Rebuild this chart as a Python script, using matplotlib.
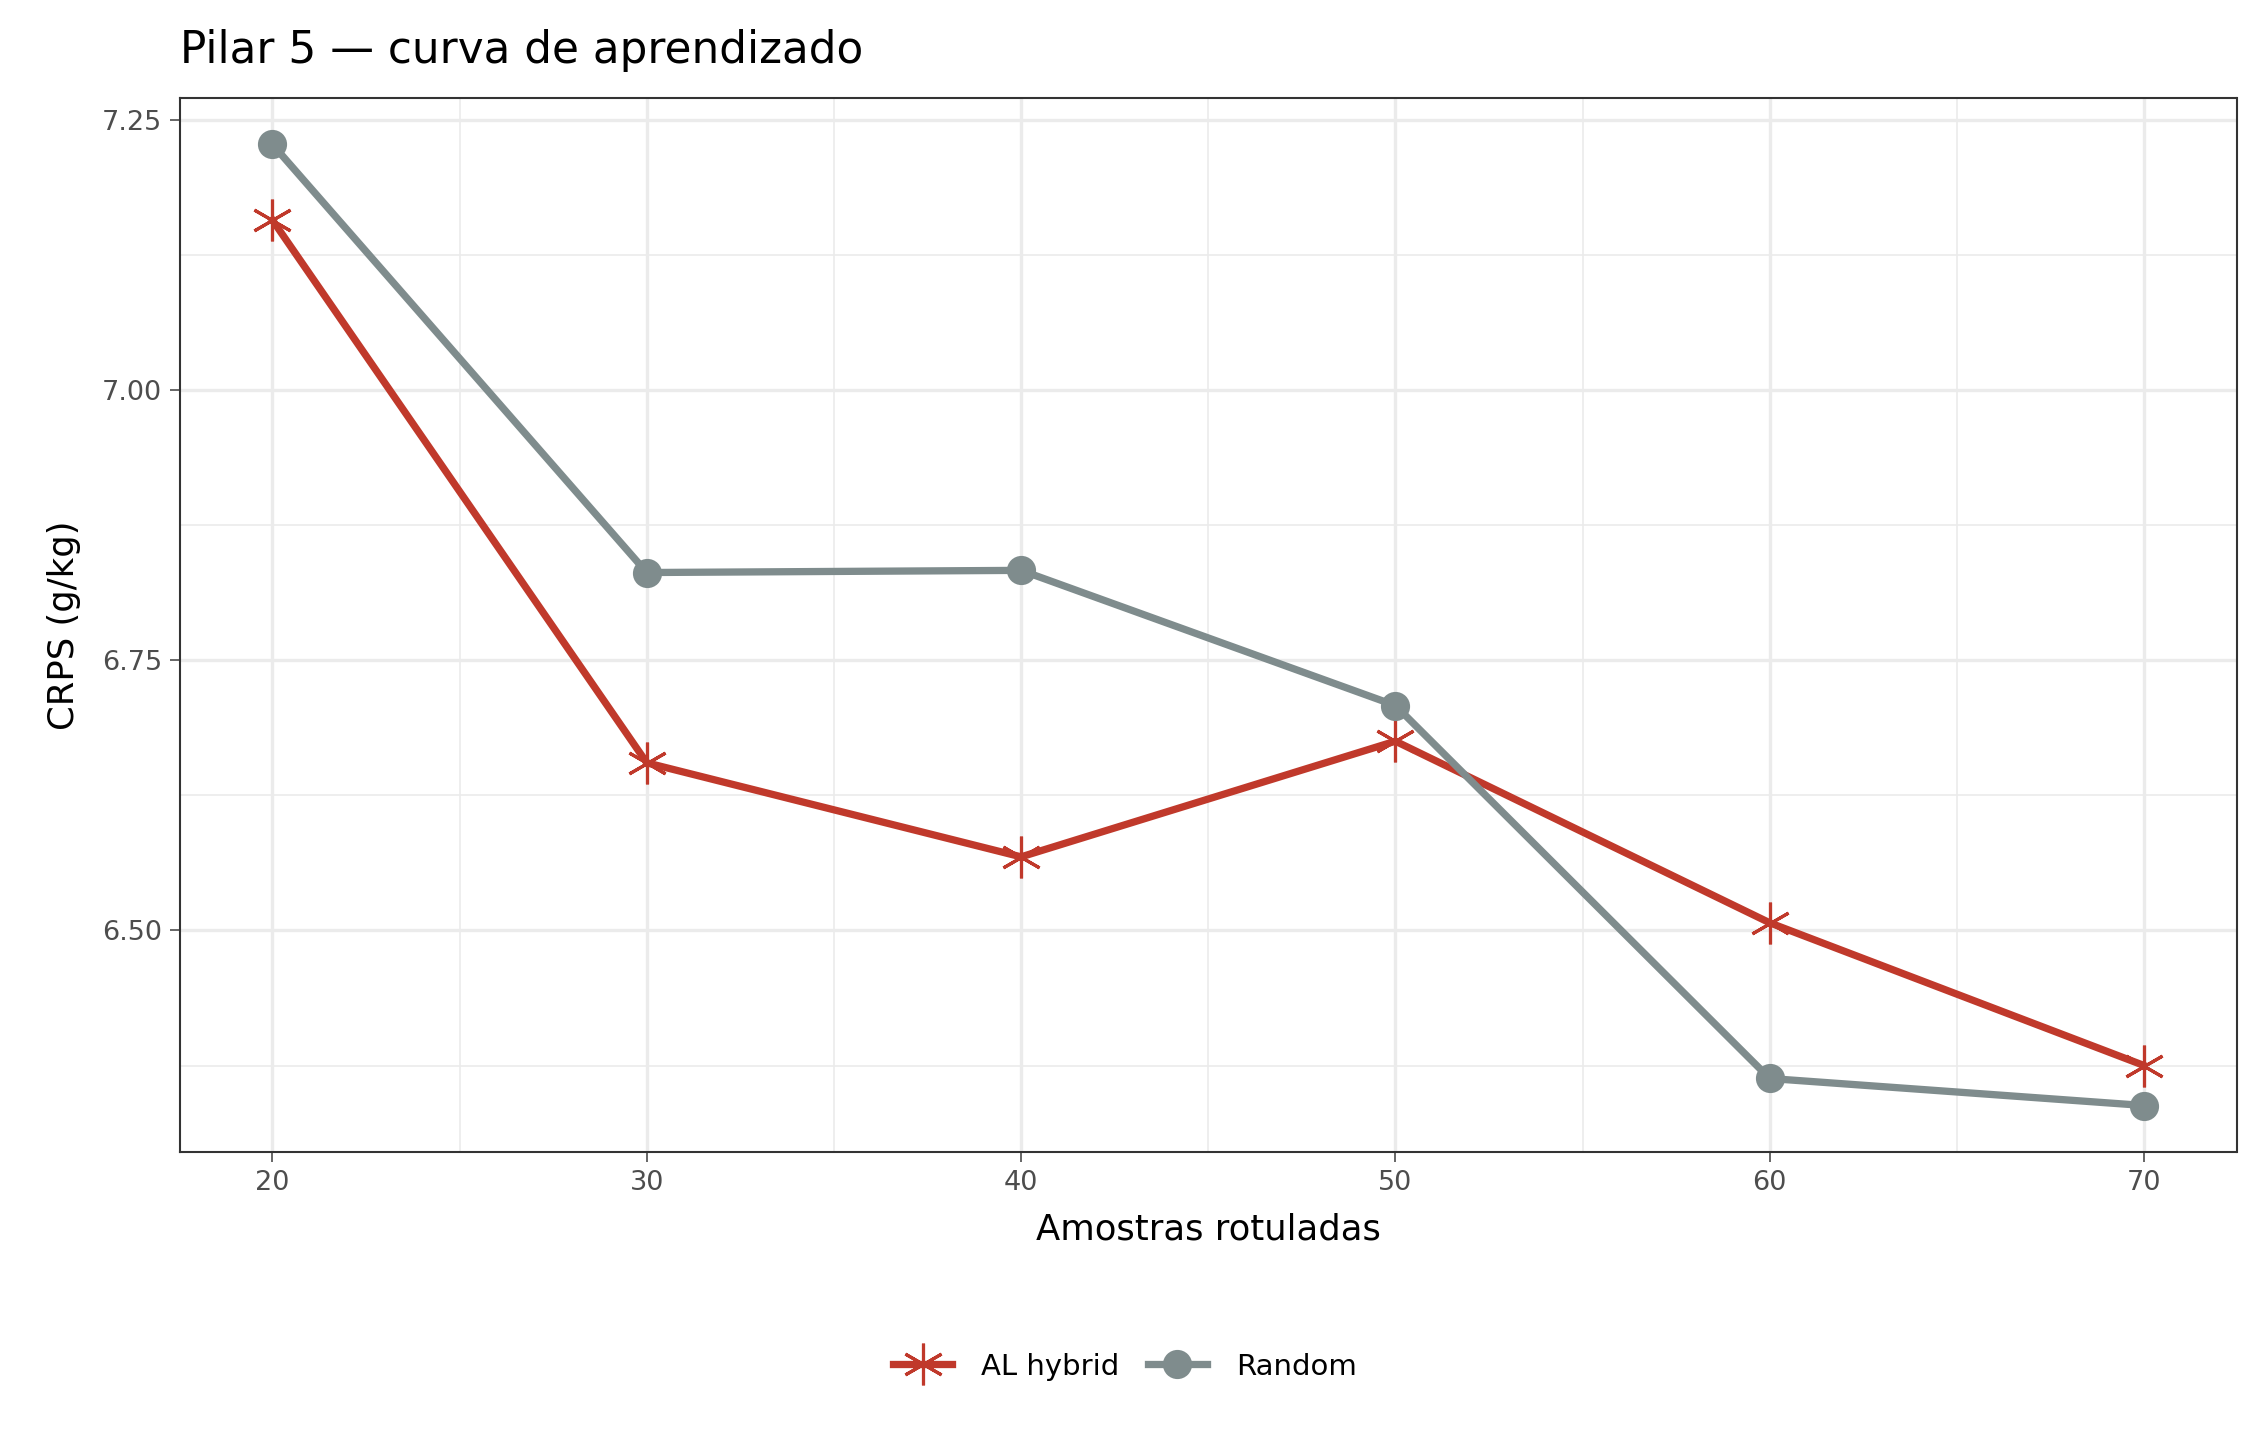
import matplotlib.pyplot as plt

amostras = [20, 30, 40, 50, 60, 70]
al_hybrid = [7.157, 6.655, 6.568, 6.675, 6.507, 6.375]
random_crps = [7.227, 6.831, 6.833, 6.708, 6.363, 6.338]

RED = "#C0392B"
GREY = "#7F8C8D"

fig = plt.figure(figsize=(15, 9.6), dpi=150)
ax = fig.add_axes([0.080, 0.200, 0.914, 0.732])

ax.plot(amostras, al_hybrid, color=RED, lw=3.5, marker=(6, 2, 0), ms=20,
        mew=1.5, label="AL hybrid", zorder=3)
ax.plot(amostras, random_crps, color=GREY, lw=3.5, marker="o", ms=13,
        label="Random", zorder=3)

ax.set_xlim(17.53, 72.47)
ax.set_ylim(6.295, 7.27)
ax.set_xticks(amostras)
ax.set_yticks([6.50, 6.75, 7.00, 7.25])
ax.set_yticklabels(["6.50", "6.75", "7.00", "7.25"])
ax.set_xticks([25, 35, 45, 55, 65], minor=True)
ax.set_yticks([6.375, 6.625, 6.875, 7.125], minor=True)
ax.grid(True, which="major", color="#EBEBEB", lw=1.6)
ax.grid(True, which="minor", color="#EBEBEB", lw=0.8)
ax.tick_params(which="minor", length=0)
ax.tick_params(which="major", labelsize=13, colors="#4D4D4D", length=5)
for s in ax.spines.values():
    s.set_color("#333333")
    s.set_linewidth(1)
ax.set_axisbelow(True)

ax.set_xlabel("Amostras rotuladas", fontsize=17, labelpad=8)
ax.set_ylabel("CRPS (g/kg)", fontsize=17, labelpad=10)
fig.text(0.080, 0.965, "Pilar 5 — curva de aprendizado", fontsize=21, va="center")

fig.legend(loc="center", bbox_to_anchor=(0.5, 0.051), ncol=2, frameon=False,
           fontsize=14, handlelength=2.0, columnspacing=1.0, handletextpad=1.0)

fig.savefig("out.png")
